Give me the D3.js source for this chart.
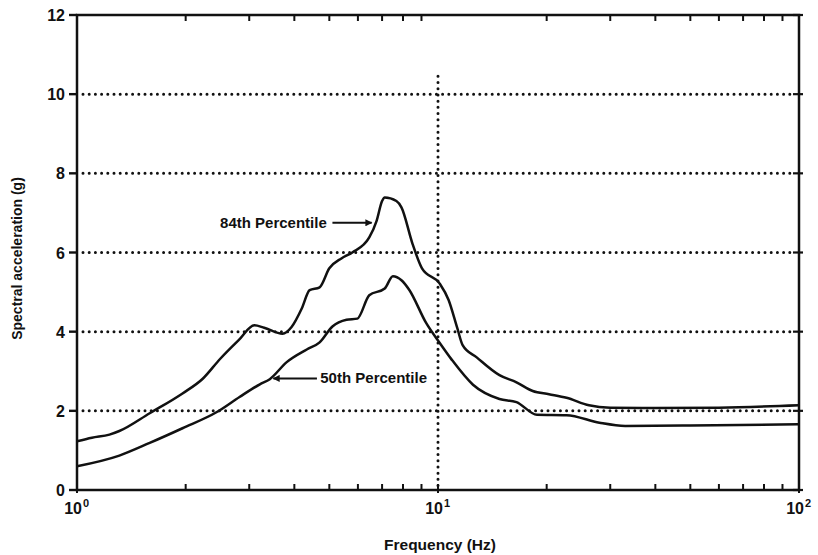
<!DOCTYPE html>
<html>
  <head>
    <meta charset="utf-8">
    <script src="https://cdn.jsdelivr.net/npm/d3@7"></script>
    <style>
      body { margin: 0; background: #fff; }
      text { font-family: 'Liberation Sans', Arial, sans-serif; font-weight: bold; fill: #111; }
    </style>
  </head>
  <body>
    <svg width="818" height="555"></svg>
    <script>
      // values
      const freq84 = [1.0, 1.1, 1.23, 1.31, 1.59, 1.96, 2.23, 2.49, 2.8, 3.1, 3.3, 3.71, 3.93, 4.2, 4.41, 4.7, 5.0, 5.4, 5.79, 6.45, 6.76, 7.0, 7.12, 7.67, 7.92, 8.5, 9.03, 10.1, 10.7, 11.3, 11.7, 12.8, 14.8, 16.5, 18.3, 20.3, 22.7, 26.2, 30, 40, 60, 100];
      const acc84 = [1.23, 1.32, 1.40, 1.49, 1.94, 2.44, 2.81, 3.31, 3.78, 4.16, 4.1, 3.95, 4.12, 4.6, 5.05, 5.12, 5.6, 5.85, 6.0, 6.38, 6.8, 7.3, 7.39, 7.3, 7.14, 6.22, 5.6, 5.22, 4.8, 4.1, 3.66, 3.35, 2.9, 2.72, 2.5, 2.42, 2.33, 2.14, 2.08, 2.07, 2.08, 2.14];
      const freq50 = [1.0, 1.31, 1.59, 1.96, 2.44, 2.82, 3.21, 3.42, 3.81, 4.33, 4.7, 5.1, 5.58, 5.98, 6.45, 7.12, 7.5, 7.92, 8.32, 9.27, 10.1, 10.9, 12.5, 14.8, 16.5, 18.8, 22.7, 28, 33, 50, 100];
      const acc50 = [0.6, 0.87, 1.19, 1.56, 1.97, 2.35, 2.67, 2.8, 3.23, 3.55, 3.73, 4.13, 4.3, 4.33, 4.92, 5.09, 5.4, 5.3, 5.06, 4.22, 3.72, 3.3, 2.66, 2.3, 2.22, 1.9, 1.89, 1.7, 1.62, 1.63, 1.66];

      const yTicks = [0, 2, 4, 6, 8, 10, 12];
      const gridY = [2, 4, 6, 8, 10];
      const decades = [1, 10, 100];
      const decadeExp = ['0', '1', '2'];
      const minorX = [2, 3, 4, 5, 6, 7, 8, 9, 20, 30, 40, 50, 60, 70, 80, 90];

      // annotations: [label, text freq, text value, arrow from freq, arrow to freq]
      const notes = [
        ['84th Percentile', 4.92, 6.75, 5.1, 6.55],
        ['50th Percentile', 4.72, 2.82, 4.62, 3.5]
      ];

      const margin = { left: 77, right: 19, top: 15, bottom: 65 };
      const svg = d3.select('svg');
      const width = +svg.attr('width');
      const height = +svg.attr('height');
      const innerWidth = width - margin.left - margin.right;
      const innerHeight = height - margin.top - margin.bottom;

      const g = svg.append('g')
          .attr('transform', `translate(${margin.left},${margin.top})`);

      const xScale = d3.scaleLog().domain([1, 100]).range([0, innerWidth]);
      const yScale = d3.scaleLinear().domain([0, 12]).range([innerHeight, 0]);

      svg.append('defs').append('marker')
          .attr('id', 'arrow')
          .attr('viewBox', '0 0 10 10')
          .attr('refX', 9).attr('refY', 5)
          .attr('markerWidth', 10).attr('markerHeight', 7)
          .attr('markerUnits', 'userSpaceOnUse')
          .attr('orient', 'auto')
        .append('path')
          .attr('d', 'M0,0 L10,5 L0,10 z')
          .attr('fill', '#111');

      // dotted grid
      g.selectAll('.grid').data(gridY).enter().append('line')
          .attr('x1', 6).attr('x2', innerWidth - 6)
          .attr('y1', d => yScale(d)).attr('y2', d => yScale(d))
          .attr('stroke', '#111')
          .attr('stroke-width', 3)
          .attr('stroke-linecap', 'round')
          .attr('stroke-dasharray', '0 6.2');

      g.append('line')
          .attr('x1', xScale(10)).attr('x2', xScale(10))
          .attr('y1', yScale(10.45)).attr('y2', innerHeight - 4)
          .attr('stroke', '#111')
          .attr('stroke-width', 3)
          .attr('stroke-linecap', 'round')
          .attr('stroke-dasharray', '0 6.2');

      // frame
      g.append('rect')
          .attr('width', innerWidth).attr('height', innerHeight)
          .attr('fill', 'none')
          .attr('stroke', '#111')
          .attr('stroke-width', 2.5);

      // y ticks left (outward) and right
      g.selectAll('.ytl').data(yTicks).enter().append('line')
          .attr('x1', -8).attr('x2', 0)
          .attr('y1', d => yScale(d)).attr('y2', d => yScale(d))
          .attr('stroke', '#111').attr('stroke-width', 2.4);
      g.selectAll('.ytr').data(yTicks).enter().append('line')
          .attr('x1', innerWidth - 6).attr('x2', innerWidth + 4)
          .attr('y1', d => yScale(d)).attr('y2', d => yScale(d))
          .attr('stroke', '#111').attr('stroke-width', 2.2);
      g.selectAll('.ylab').data(yTicks).enter().append('text')
          .attr('x', -12)
          .attr('y', d => yScale(d) + 6)
          .attr('text-anchor', 'end')
          .attr('font-size', 16)
          .text(d => d);

      // minor x ticks, bottom and top, pointing inward
      g.selectAll('.xb').data(minorX).enter().append('line')
          .attr('x1', d => xScale(d)).attr('x2', d => xScale(d))
          .attr('y1', innerHeight).attr('y2', innerHeight - 6)
          .attr('stroke', '#111').attr('stroke-width', 2);
      g.selectAll('.xt').data(minorX).enter().append('line')
          .attr('x1', d => xScale(d)).attr('x2', d => xScale(d))
          .attr('y1', 0).attr('y2', 6)
          .attr('stroke', '#111').attr('stroke-width', 2);
      g.selectAll('.xd').data(decades).enter().append('line')
          .attr('x1', d => xScale(d)).attr('x2', d => xScale(d))
          .attr('y1', innerHeight + 3).attr('y2', innerHeight - 6)
          .attr('stroke', '#111').attr('stroke-width', 2);

      // decade labels: base and exponent as separate texts
      g.selectAll('.xlab').data(decades).enter().append('text')
          .attr('x', d => xScale(d) + 5)
          .attr('y', innerHeight + 24)
          .attr('text-anchor', 'end')
          .attr('font-size', 16)
          .text('10');
      g.selectAll('.xexp').data(decades).enter().append('text')
          .attr('x', d => xScale(d) + 6)
          .attr('y', innerHeight + 17)
          .attr('text-anchor', 'start')
          .attr('font-size', 11)
          .text((d, i) => decadeExp[i]);

      // curves
      const line = d3.line()
          .x(d => xScale(d[0]))
          .y(d => yScale(d[1]))
          .curve(d3.curveMonotoneX);

      const series = [d3.zip(freq84, acc84), d3.zip(freq50, acc50)];
      g.selectAll('.curve').data(series).enter().append('path')
          .attr('d', line)
          .attr('fill', 'none')
          .attr('stroke', '#111')
          .attr('stroke-width', 2.5)
          .attr('stroke-linejoin', 'round');

      // annotations
      notes.forEach(([label, tf, tv, af, bf], i) => {
        g.append('text')
            .attr('x', xScale(tf))
            .attr('y', yScale(tv) + 5)
            .attr('text-anchor', i === 0 ? 'end' : 'start')
            .attr('font-size', 15)
            .text(label);
        g.append('line')
            .attr('x1', xScale(af)).attr('x2', xScale(bf))
            .attr('y1', yScale(tv)).attr('y2', yScale(tv))
            .attr('stroke', '#111')
            .attr('stroke-width', 2)
            .attr('marker-end', 'url(#arrow)');
      });

      // axis titles
      svg.append('text')
          .attr('transform', `translate(22,${margin.top + innerHeight / 2 + 6}) rotate(-90)`)
          .attr('text-anchor', 'middle')
          .attr('font-size', 14)
          .text('Spectral acceleration (g)');

      svg.append('text')
          .attr('x', 440)
          .attr('y', 550)
          .attr('text-anchor', 'middle')
          .attr('font-size', 15.5)
          .text('Frequency (Hz)');
    </script>
  </body>
</html>
